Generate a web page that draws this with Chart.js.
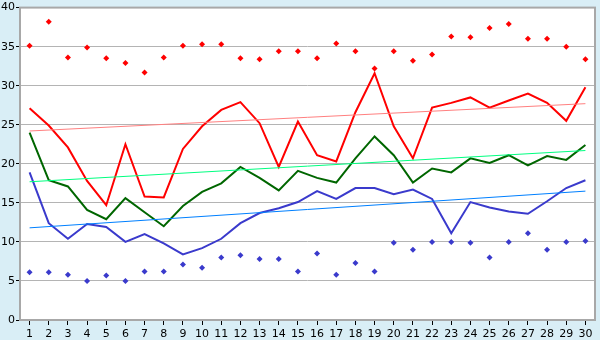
<!DOCTYPE html>
<html>
<head>
<meta charset="utf-8">
<script src="https://cdn.jsdelivr.net/npm/chart.js@4/dist/chart.umd.min.js"></script>
<style>
  html, body { margin: 0; padding: 0; background: #d9eef6; }
  #wrap { width: 600px; height: 340px; }
</style>
</head>
<body>
<div id="wrap"><canvas id="tempChart" width="600" height="340"></canvas></div>
<script>
const days = ['1','2','3','4','5','6','7','8','9','10','11','12','13','14','15','16','17','18','19','20','21','22','23','24','25','26','27','28','29','30'];

// valeurs
const maxPoints = [35.1, 38.2, 33.6, 34.9, 33.5, 32.9, 31.7, 33.6, 35.1, 35.3, 35.3, 33.5, 33.4, 34.4, 34.4,
                   33.5, 35.4, 34.4, 32.2, 34.4, 33.2, 34.0, 36.3, 36.2, 37.4, 37.9, 36.0, 36.0, 35.0, 33.4];
const highLine = [27.1, 24.9, 22.1, 17.8, 14.7, 22.5, 15.8, 15.7, 21.9, 24.8, 26.9, 27.9, 25.2, 19.6, 25.4,
                  21.1, 20.3, 26.6, 31.6, 24.8, 20.7, 27.2, 27.8, 28.5, 27.2, 28.1, 29.0, 27.8, 25.5, 29.8];
const meanLine = [24.0, 17.9, 17.1, 14.1, 12.9, 15.6, 13.8, 12.0, 14.6, 16.4, 17.5, 19.6, 18.2, 16.6, 19.1,
                  18.2, 17.6, 20.7, 23.5, 21.1, 17.6, 19.4, 18.9, 20.7, 20.1, 21.1, 19.8, 21.0, 20.5, 22.4];
const lowLine = [18.9, 12.4, 10.4, 12.3, 11.9, 10.0, 11.0, 9.8, 8.4, 9.2, 10.4, 12.4, 13.7, 14.3, 15.1,
                 16.5, 15.5, 16.9, 16.9, 16.1, 16.7, 15.5, 11.1, 15.1, 14.4, 13.9, 13.6, 15.2, 16.9, 17.9];
const minPoints = [6.1, 6.1, 5.8, 5.0, 5.7, 5.0, 6.2, 6.2, 7.1, 6.7, 8.0, 8.3, 7.8, 7.8, 6.2,
                   8.5, 5.8, 7.3, 6.2, 9.9, 9.0, 10.0, 10.0, 9.9, 8.0, 10.0, 11.1, 9.0, 10.0, 10.1];

// tendances : valeur au jour 1 et au jour 30
const highTrend = [24.2, 27.7];
const meanTrend = [17.7, 21.7];
const lowTrend = [11.8, 16.5];

function trend(ends) {
  const arr = days.map(() => null);
  arr[0] = ends[0];
  arr[days.length - 1] = ends[1];
  return arr;
}

function lineSet(data, color, width) {
  return {
    type: 'line',
    data: data,
    borderColor: color,
    backgroundColor: color,
    borderWidth: width,
    pointRadius: 0,
    tension: 0,
    spanGaps: true
  };
}

function dotSet(data, color) {
  return {
    type: 'line',
    data: data,
    showLine: false,
    pointStyle: 'rectRot',
    pointRadius: 3,
    pointBorderWidth: 0,
    pointBackgroundColor: color,
    borderColor: color
  };
}

const plotFrame = {
  id: 'plotFrame',
  beforeDraw(chart) {
    const a = chart.chartArea;
    const c = chart.ctx;
    c.save();
    c.fillStyle = '#d9eef6';
    c.fillRect(0, 0, chart.width, chart.height);
    c.fillStyle = '#ffffff';
    c.fillRect(a.left, a.top, a.right - a.left, a.bottom - a.top);
    c.restore();
  },
  afterDraw(chart) {
    const a = chart.chartArea;
    const c = chart.ctx;
    c.save();
    c.strokeStyle = '#a8a8a8';
    c.lineWidth = 2;
    c.strokeRect(a.left, a.top, a.right - a.left, a.bottom - a.top);
    c.restore();
  }
};

const ctxTemp = document.getElementById('tempChart').getContext('2d');
const tempChart = new Chart(ctxTemp, {
  data: {
    labels: days,
    datasets: [
      lineSet(trend(highTrend), '#ff8080', 1),
      lineSet(trend(meanTrend), '#00ff80', 1),
      lineSet(trend(lowTrend), '#0080ff', 1),
      lineSet(highLine, '#ff0000', 2),
      lineSet(meanLine, '#006600', 2),
      lineSet(lowLine, '#3a3acc', 2),
      dotSet(maxPoints, '#ff0000'),
      dotSet(minPoints, '#3a3acc')
    ]
  },
  options: {
    responsive: false,
    animation: false,
    layout: { padding: { left: 0, top: 5, right: 5, bottom: 0 } },
    plugins: { legend: { display: false }, tooltip: { enabled: false } },
    scales: {
      x: {
        type: 'category',
        offset: true,
        afterFit(s) { s.height = 20; },
        grid: { drawOnChartArea: false, drawTicks: true, tickLength: 5, tickColor: '#000000' },
        border: { display: false },
        ticks: { color: '#000000', padding: 3, maxRotation: 0, autoSkip: false, font: { family: 'DejaVu Sans', size: 11 } }
      },
      y: {
        min: 0,
        max: 40,
        afterFit(s) { s.width = 20; },
        grid: { color: '#b4b4b4', lineWidth: 1, tickLength: 4, tickColor: '#000000' },
        border: { display: false },
        ticks: { stepSize: 5, color: '#000000', padding: 1, font: { family: 'DejaVu Sans', size: 11 } }
      }
    }
  },
  plugins: [plotFrame]
});
</script>
</body>
</html>
